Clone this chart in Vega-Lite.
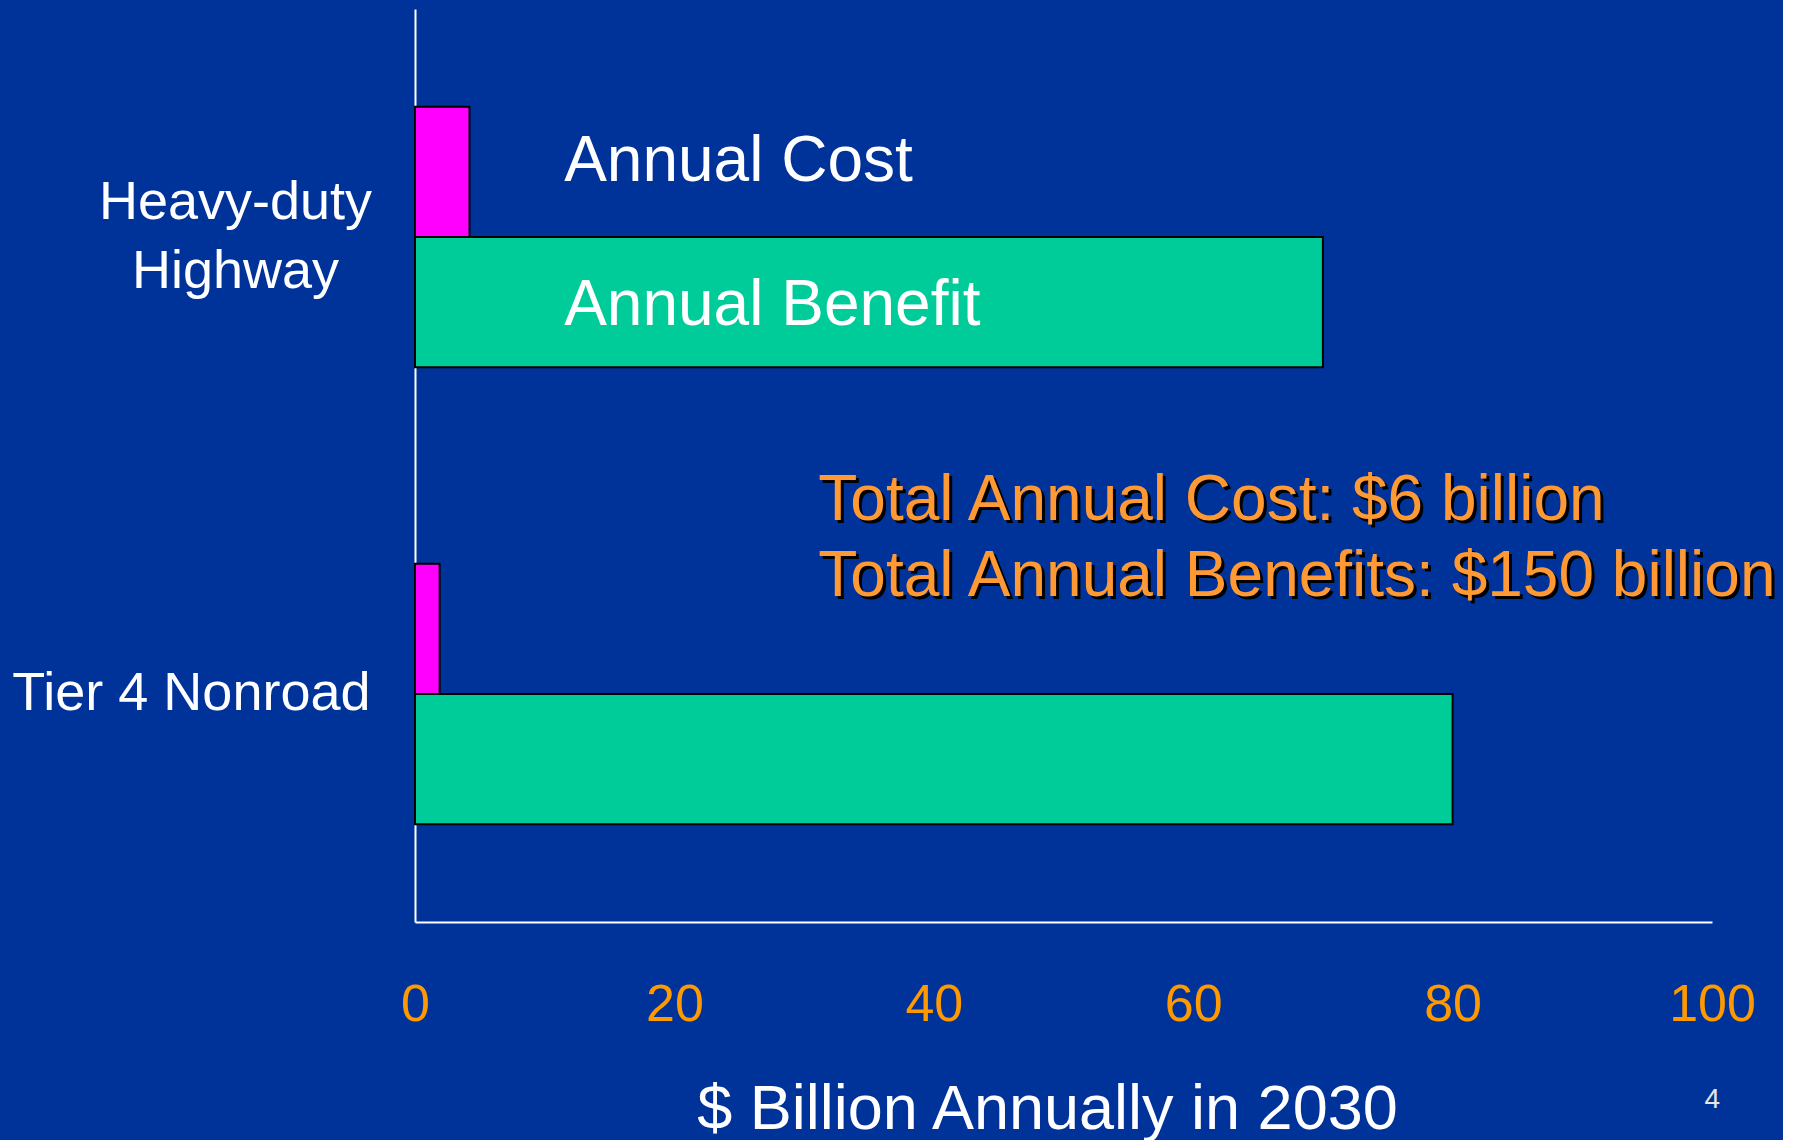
{
  "$schema": "https://vega.github.io/schema/vega-lite/v6.json",
  "width": 1297,
  "height": 913,
  "padding": {"left": 0, "top": 9, "right": 0, "bottom": 0},
  "background": "#003399",
  "config": {"view": {"stroke": null}, "font": "Liberation Sans"},
  "title": {"text": "4", "orient": "bottom", "anchor": "end", "frame": "group", "fontSize": 28, "fontWeight": "normal", "color": "#E6E6E6", "baseline": "alphabetic", "offset": -33, "dx": 8, "font": "Liberation Sans"},
  "datasets": {
    "bars": [
      {"group": "Heavy-duty Highway", "type": "Annual Cost", "value": 4.2},
      {"group": "Heavy-duty Highway", "type": "Annual Benefit", "value": 70},
      {"group": "Tier 4 Nonroad", "type": "Annual Cost", "value": 1.9},
      {"group": "Tier 4 Nonroad", "type": "Annual Benefit", "value": 80}
    ],
    "labels": [
      {"group": "Heavy-duty Highway", "type": "Annual Cost", "x": 11.5, "label": "Annual Cost"},
      {"group": "Heavy-duty Highway", "type": "Annual Benefit", "x": 11.5, "label": "Annual Benefit"}
    ],
    "totals": [
      {"group": "Tier 4 Nonroad", "x": 31.1, "label": "Total Annual Cost: $6 billion\nTotal Annual Benefits: $150 billion"}
    ]
  },
  "layer": [
    {
      "data": {"name": "bars"},
      "mark": {"type": "bar", "stroke": "#000000", "strokeWidth": 2},
      "encoding": {
        "x": {
          "field": "value", "type": "quantitative",
          "scale": {"domain": [0, 100], "nice": false, "zero": true},
          "axis": {
            "title": "$ Billion Annually in 2030",
            "values": [0, 20, 40, 60, 80, 100],
            "grid": false, "ticks": false, "tickSize": 0,
            "domainColor": "#FFFFFF", "domainWidth": 2,
            "labelColor": "#FF9900", "labelFontSize": 52, "labelPadding": 57,
            "labelFont": "Liberation Sans", "labelFlush": false, "labelOverlap": false,
            "titleColor": "#FFFFFF", "titleFontSize": 63, "titleFontWeight": "normal",
            "titleFont": "Liberation Sans", "titleBaseline": "alphabetic", "titleY": 206, "titleX": 632
          }
        },
        "y": {
          "field": "group", "type": "nominal",
          "sort": ["Heavy-duty Highway", "Tier 4 Nonroad"],
          "scale": {"paddingInner": 0.43, "paddingOuter": 0.214},
          "axis": {
            "title": null, "ticks": false, "tickSize": 0,
            "domainColor": "#FFFFFF", "domainWidth": 2,
            "labelColor": "#FFFFFF", "labelFontSize": 54,
            "labelFont": "Liberation Sans", "labelLineHeight": 69, "labelLimit": 0,
            "labelExpr": "datum.label == 'Heavy-duty Highway' ? ['Heavy-duty', 'Highway'] : datum.label",
            "labelAlign": {"condition": {"test": "datum.value == 'Heavy-duty Highway'", "value": "center"}, "value": "right"},
            "labelPadding": {"condition": {"test": "datum.value == 'Heavy-duty Highway'", "value": 180}, "value": 45},
            "labelOffset": {"condition": {"test": "datum.value == 'Heavy-duty Highway'", "value": -34}, "value": 0},
            "minExtent": 415, "maxExtent": 415
          }
        },
        "yOffset": {
          "field": "type", "type": "nominal",
          "sort": ["Annual Cost", "Annual Benefit"],
          "scale": {"paddingInner": 0, "paddingOuter": 0}
        },
        "color": {
          "field": "type", "type": "nominal",
          "scale": {"domain": ["Annual Cost", "Annual Benefit"], "range": ["#FF00FF", "#00CC99"]},
          "legend": null
        }
      }
    },
    {
      "data": {"name": "labels"},
      "transform": [{"filter": "datum.type == 'Annual Cost'"}],
      "mark": {"type": "text", "align": "left", "baseline": "alphabetic", "fontSize": 64, "color": "#FFFFFF", "dy": -56},
      "encoding": {
        "x": {"field": "x", "type": "quantitative"},
        "y": {"field": "group", "type": "nominal"},
        "text": {"field": "label"}
      }
    },
    {
      "data": {"name": "labels"},
      "transform": [{"filter": "datum.type == 'Annual Benefit'"}],
      "mark": {"type": "text", "align": "left", "baseline": "alphabetic", "fontSize": 64, "color": "#FFFFFF", "dy": 88},
      "encoding": {
        "x": {"field": "x", "type": "quantitative"},
        "y": {"field": "group", "type": "nominal"},
        "text": {"field": "label"}
      }
    },
    {
      "data": {"name": "totals"},
      "mark": {"type": "text", "align": "left", "baseline": "alphabetic", "fontSize": 64, "lineHeight": 76, "lineBreak": "\n", "color": "#000000", "dx": 3, "dy": -41},
      "encoding": {
        "x": {"field": "x", "type": "quantitative"},
        "y": {"field": "group", "type": "nominal", "bandPosition": 0},
        "text": {"field": "label"}
      }
    },
    {
      "data": {"name": "totals"},
      "mark": {"type": "text", "align": "left", "baseline": "alphabetic", "fontSize": 64, "lineHeight": 76, "lineBreak": "\n", "color": "#FF9933", "dy": -44},
      "encoding": {
        "x": {"field": "x", "type": "quantitative"},
        "y": {"field": "group", "type": "nominal", "bandPosition": 0},
        "text": {"field": "label"}
      }
    }
  ]
}
